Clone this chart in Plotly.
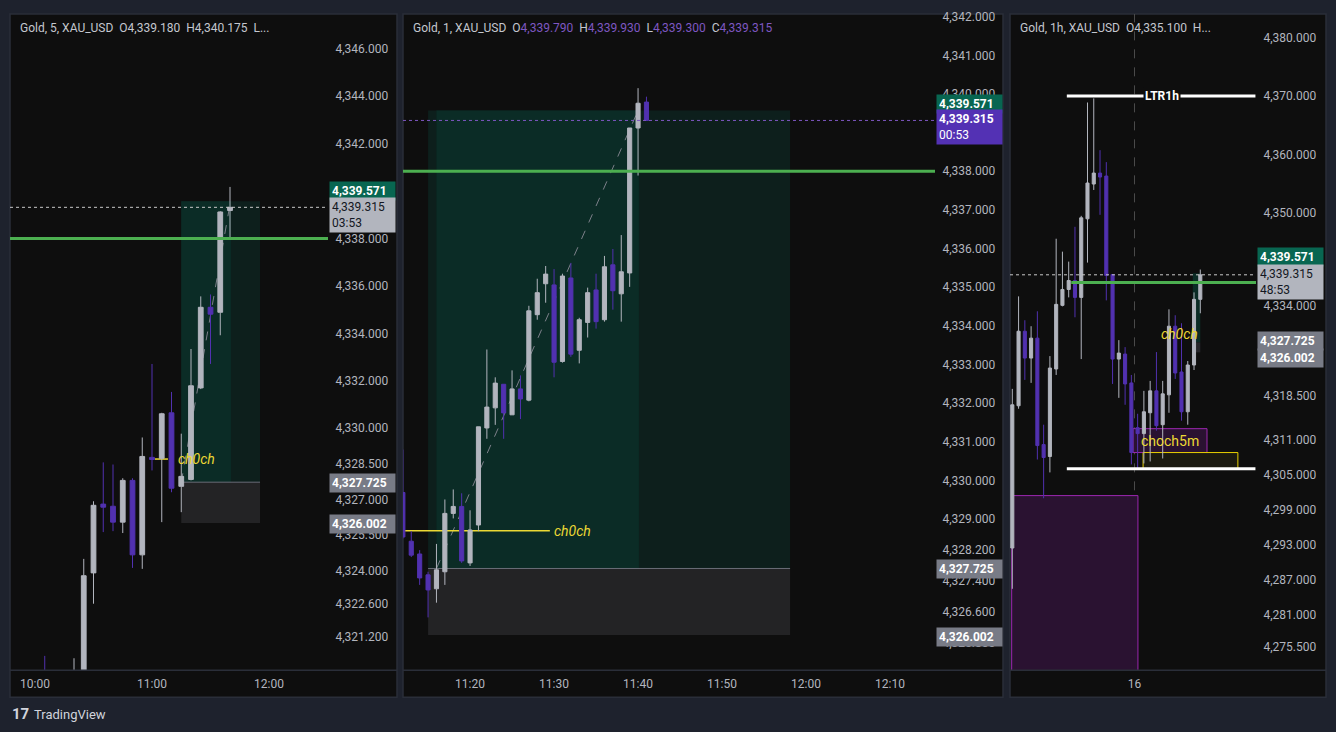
import plotly.graph_objects as go
import pandas as pd

W, H = 1336, 732
PAGE = "#1e222d"
PANEL = "#0e0e0e"
BORDER = "#2a2e39"
TXT = "#b2b5be"
UP = "#b2b5be"
DOWN = "#5131b0"
GREEN = "#4caf50"
YEL = "#ecd934"
FONT = "Roboto, sans-serif"
DAY = "2025-12-16 "

# trade levels (shared by the three charts)
TARGET = 4339.571
ENTRY = 4327.725
STOP = 4326.002
LAST = 4339.315
LEVEL_GREEN = 4338.0
CHOCH_LEVEL = 4328.70
LTR_LEVEL = 4370.0
LOW_LEVEL = 4306.0

# ---- Gold 5 min
m5_time = ["10:05", "10:20", "10:25", "10:30", "10:35", "10:40", "10:45", "10:50", "10:55",
           "11:00", "11:05", "11:10", "11:15", "11:20", "11:25", "11:30", "11:35", "11:40"]
m5_open = [4319.40, 4318.30, 4319.00, 4323.90, 4326.80, 4326.71, 4326.04, 4327.80, 4324.66,
           4328.77, 4328.73, 4330.65, 4327.55, 4327.84, 4331.70, 4335.10, 4334.89, 4339.18]
m5_high = [4320.40, 4320.30, 4324.49, 4326.92, 4328.56, 4328.47, 4327.89, 4327.89, 4329.61,
           4332.71, 4330.65, 4331.53, 4329.77, 4333.34, 4335.56, 4335.64, 4339.15, 4340.175]
m5_low = [4317.50, 4317.60, 4318.50, 4322.60, 4325.62, 4325.66, 4325.58, 4324.11, 4324.07,
          4328.22, 4326.04, 4327.30, 4326.46, 4327.80, 4331.65, 4332.71, 4333.92, 4337.95]
m5_close = [4318.20, 4319.50, 4323.78, 4326.75, 4326.67, 4326.04, 4327.80, 4324.66, 4328.81,
            4328.68, 4330.61, 4327.47, 4327.97, 4331.79, 4335.10, 4334.81, 4339.12, 4339.315]
m5_yticks = [4346, 4344, 4342, 4338, 4336, 4334, 4332, 4330, 4328.5, 4327, 4325.5, 4324, 4322.6, 4321.2]
m5_xticks = ["10:00", "11:00", "12:00"]

# ---- Gold 1 min
m1_time = ["11:12", "11:13", "11:14", "11:15", "11:16", "11:17", "11:18", "11:19", "11:20", "11:21",
           "11:22", "11:23", "11:24", "11:25", "11:26", "11:27", "11:28", "11:29", "11:30", "11:31",
           "11:32", "11:33", "11:34", "11:35", "11:36", "11:37", "11:38", "11:39", "11:40", "11:41"]
m1_open = [4329.69, 4328.43, 4328.10, 4327.56, 4327.20, 4327.64, 4329.15, 4329.33, 4327.87, 4328.85,
           4331.36, 4331.88, 4332.49, 4331.70, 4332.37, 4332.08, 4334.29, 4335.09, 4335.06, 4333.08,
           4335.24, 4333.37, 4334.09, 4334.93, 4334.16, 4335.58, 4334.83, 4335.37, 4339.12, 4339.79]
m1_high = [4330.80, 4328.69, 4328.20, 4327.64, 4328.36, 4329.51, 4329.77, 4329.67, 4329.23, 4331.39,
           4333.39, 4332.67, 4332.49, 4332.85, 4332.72, 4334.52, 4335.22, 4335.55, 4335.47, 4335.35,
           4335.63, 4334.21, 4334.99, 4335.35, 4335.81, 4335.99, 4336.35, 4339.12, 4340.15, 4339.93]
m1_low = [4328.50, 4328.02, 4327.30, 4326.46, 4326.84, 4327.30, 4329.02, 4327.87, 4327.79, 4328.69,
          4331.08, 4331.44, 4331.08, 4331.70, 4331.59, 4332.05, 4334.16, 4334.60, 4332.67, 4333.05,
          4333.20, 4333.03, 4333.70, 4333.93, 4334.11, 4334.42, 4334.11, 4335.01, 4337.89, 4339.30]
m1_close = [4328.54, 4328.07, 4327.48, 4327.17, 4327.69, 4329.15, 4329.33, 4327.92, 4328.72, 4331.39,
            4331.90, 4332.52, 4331.75, 4332.37, 4332.11, 4334.39, 4334.86, 4335.34, 4333.06, 4335.29,
            4333.27, 4334.16, 4334.86, 4334.11, 4335.53, 4334.91, 4335.40, 4339.12, 4339.76, 4339.315]
m1_yticks = [4342, 4341, 4340, 4338, 4337, 4336, 4335, 4334, 4333, 4332, 4331, 4330, 4329,
             4328.2, 4327.4, 4326.6, 4325.8]
m1_xticks = ["11:20", "11:30", "11:40", "11:50", "12:00", "12:10"]

# ---- Gold 1 hour
h1_start = "2025-12-15 04:30"
h1_open = [4292.41, 4316.83, 4329.63, 4325.02, 4328.44, 4310.17, 4308.12, 4323.15, 4334.07, 4336.80,
           4338.34, 4335.44, 4348.93, 4354.90, 4356.78, 4356.27, 4339.36, 4324.85, 4325.71, 4320.75,
           4313.07, 4312.05, 4315.63, 4319.39, 4313.58, 4318.71, 4330.49, 4322.63, 4315.80, 4323.83, 4335.10]
h1_high = [4319.73, 4335.61, 4331.51, 4330.49, 4333.05, 4313.58, 4325.36, 4345.51, 4343.29, 4341.58,
           4347.56, 4349.44, 4368.90, 4369.60, 4360.71, 4358.66, 4339.40, 4328.10, 4326.90, 4322.12,
           4315.46, 4319.39, 4321.10, 4326.05, 4321.10, 4333.39, 4332.37, 4331.00, 4324.51, 4336.30, 4340.22]
h1_low = [4285.41, 4316.32, 4321.27, 4320.76, 4307.61, 4300.95, 4305.39, 4322.12, 4333.90, 4335.44,
          4332.02, 4324.85, 4341.41, 4353.88, 4349.61, 4334.93, 4320.58, 4318.19, 4317.00, 4306.76,
          4306.07, 4306.93, 4307.27, 4312.56, 4307.78, 4315.63, 4321.44, 4314.27, 4313.58, 4322.97, 4332.71]
h1_close = [4317.00, 4329.63, 4325.02, 4328.44, 4310.00, 4307.95, 4323.31, 4334.24, 4336.80, 4338.34,
            4335.44, 4349.10, 4355.07, 4356.78, 4356.10, 4339.19, 4324.85, 4325.88, 4320.58, 4308.80,
            4312.05, 4315.80, 4319.39, 4313.41, 4318.88, 4330.49, 4322.46, 4315.80, 4323.83, 4335.10, 4339.315]
h1_yticks = [4380, 4370, 4360, 4350, 4334, 4318.5, 4311, 4305, 4299, 4293, 4287, 4281, 4275.5]
h1_time = pd.date_range(h1_start, periods=len(h1_open), freq="h")


def px(x):
    return x / W


def py(y):
    return 1 - y / H


def T(s):
    return DAY + s


def hr(i):
    return (pd.Timestamp(h1_start) + pd.Timedelta(hours=i)).strftime("%Y-%m-%d %H:%M:%S")


def candles(x, o, h, l, c, xa, ya):
    return go.Candlestick(x=x, open=o, high=h, low=l, close=c, xaxis=xa, yaxis=ya,
                          increasing=dict(line=dict(color=UP, width=1), fillcolor=UP),
                          decreasing=dict(line=dict(color=DOWN, width=1), fillcolor=DOWN),
                          whiskerwidth=0, showlegend=False, hoverinfo="skip")


fig = go.Figure()
fig.add_trace(candles([T(t) for t in m5_time], m5_open, m5_high, m5_low, m5_close, "x", "y"))
fig.add_trace(candles([T(t) for t in m1_time], m1_open, m1_high, m1_low, m1_close, "x2", "y2"))
fig.add_trace(candles(h1_time, h1_open, h1_high, h1_low, h1_close, "x3", "y3"))

shapes = []


def rect(xr, yr, x0, x1, y0, y1, fill, line=None, lw=0, layer="below"):
    shapes.append(dict(type="rect", xref=xr, yref=yr, x0=x0, x1=x1, y0=y0, y1=y1, fillcolor=fill,
                       line=dict(color=line or fill, width=lw), layer=layer))


def seg(xr, yr, x0, x1, y0, y1, color, width=1, dash="solid", layer="below"):
    shapes.append(dict(type="line", xref=xr, yref=yr, x0=x0, x1=x1, y0=y0, y1=y1,
                       line=dict(color=color, width=width, dash=dash), layer=layer))


# panels
for left, right in [(10, 397), (403, 1003), (1010, 1326)]:
    rect("paper", "paper", px(left), px(right), py(697), py(10), PANEL, BORDER, 1.5)
    seg("paper", "paper", px(left), px(right), py(670), py(670), BORDER, 1.5, layer="above")

# 5 min drawings
rect("x", "y", T("11:15"), T("11:55:24"), ENTRY, TARGET, "#0d1f1c")
rect("x", "y", T("11:15"), T("11:40:30"), ENTRY, TARGET, "#0b2c26")
rect("x", "y", T("11:15"), T("11:55:24"), STOP, ENTRY, "#232325")
seg("x", "y", T("11:15"), T("11:55:24"), ENTRY, ENTRY, "#6a6d78")
seg("x", "y", T("11:15"), T("11:40"), ENTRY, 4339.45, "#7d808a", 1, "dash")
seg("x", "y", T("11:01:30"), T("11:08:10"), CHOCH_LEVEL, CHOCH_LEVEL, YEL, 1.5)
seg("x domain", "y", 0, 1, LEVEL_GREEN, LEVEL_GREEN, GREEN, 3, layer="above")
seg("x domain", "y", 0, 1, LAST, LAST, "#c8c8c8", 1, "dot", layer="above")

# 1 min drawings
rect("x2", "y2", T("11:15"), T("11:58:06"), ENTRY, TARGET, "#0d1f1c")
rect("x2", "y2", T("11:16"), T("11:40:06"), ENTRY, TARGET, "#0b2c26")
rect("x2", "y2", T("11:15"), T("11:58:06"), STOP, ENTRY, "#232325")
seg("x2", "y2", T("11:15"), T("11:58:06"), ENTRY, ENTRY, "#6a6d78")
seg("x2", "y2", T("11:16"), T("11:40"), ENTRY, TARGET, "#7d808a", 1, "dash")
seg("x2", "y2", T("11:05"), T("11:29:30"), CHOCH_LEVEL, CHOCH_LEVEL, YEL, 1.5)
seg("x2 domain", "y2", 0, 1, LEVEL_GREEN, LEVEL_GREEN, GREEN, 3, layer="above")
seg("x2 domain", "y2", 0, 1, LAST, LAST, "#7e57c2", 1, "dot", layer="above")

# 1 hour drawings
rect("x3", "y3", hr(-0.1), hr(20.05), 4250, 4301.41, "#2a1231", "#9c27b0", 1)
rect("x3", "y3", hr(19.26), hr(31.07), 4308.80, 4312.90, "#2a1231", "#9c27b0", 1)
rect("x3", "y3", hr(20.87), hr(36.0), 4306.07, 4308.80, "#1b1a10", "#e8d000", 1)
rect("x3", "y3", hr(28.8), hr(30.0), ENTRY, TARGET, "#0b2c26")
rect("x3", "y3", hr(28.8), hr(30.0), STOP, ENTRY, "#26262a")
seg("x3", "y3 domain", hr(19.5), hr(19.5), 0, 1, "#4a4a4a", 1, "dash")
seg("x3", "y3", hr(8.7), hr(38.8), LTR_LEVEL, LTR_LEVEL, "#ffffff", 3, layer="above")
seg("x3", "y3", hr(8.7), hr(38.8), LOW_LEVEL, LOW_LEVEL, "#ffffff", 3, layer="above")
seg("x3", "y3", hr(9.4), hr(40), LEVEL_GREEN, LEVEL_GREEN, GREEN, 3, layer="above")
seg("x3 domain", "y3", 0, 1, LAST, LAST, "#c8c8c8", 1, "dot", layer="above")

ann = []


def note(text, x, y, xr="paper", yr="paper", **kw):
    d = dict(text=text, x=x, y=y, xref=xr, yref=yr, showarrow=False,
             font=dict(family=FONT, size=12, color=TXT))
    d.update(kw)
    ann.append(d)


def tag(yr, xright, price, text, bg, fg, shift=0):
    note(text, px(xright + 1), price, "paper", yr, xanchor="left", yanchor="middle", yshift=shift,
         bgcolor=bg, borderpad=2, width=61, align="left",
         font=dict(family=FONT, size=12, color=fg))


NB = "\u00a0\u00a0"
HEAD = dict(xanchor="left", yanchor="middle", font=dict(family=FONT, size=12, color="#c4c7cf"))
note("Gold, 5, XAU_USD" + NB + "O4,339.180" + NB + "H4,340.175" + NB + "L...", px(18), py(24), **HEAD)
pv = "<span style='color:#7e57c2'>%s</span>"
note("Gold, 1, XAU_USD" + NB + "O" + pv % "4,339.790" + NB + "H" + pv % "4,339.930" + NB
     + "L" + pv % "4,339.300" + NB + "C" + pv % "4,339.315", px(411), py(24), **HEAD)
note("Gold, 1h, XAU_USD" + NB + "O4,335.100" + NB + "H...", px(1018), py(24), **HEAD)

# price scale tags
tag("y", 328, TARGET, "<b>4,339.571</b>", "#086651", "#ffffff", 10)
tag("y", 328, LAST, "4,339.315<br>03:53", "#b2b5be", "#131722", -8)
tag("y", 328, ENTRY, "<b>4,327.725</b>", "#787b86", "#ffffff", -1)
tag("y", 328, STOP, "<b>4,326.002</b>", "#787b86", "#ffffff", -1)
tag("y2", 935, TARGET, "<b>4,339.571</b>", "#086651", "#ffffff", 7)
tag("y2", 935, LAST, "<b>4,339.315</b><br>00:53", "#5331b4", "#ffffff", -7)
tag("y2", 935, ENTRY, "<b>4,327.725</b>", "#787b86", "#ffffff", -1)
tag("y2", 935, STOP, "<b>4,326.002</b>", "#787b86", "#ffffff", -2)
tag("y3", 1256, TARGET, "<b>4,339.571</b>", "#086651", "#ffffff", 16)
tag("y3", 1256, LAST, "4,339.315<br>48:53", "#b2b5be", "#131722", -7)
tag("y3", 1256, ENTRY, "<b>4,327.725</b>", "#787b86", "#ffffff", 1)
tag("y3", 1256, STOP, "<b>4,326.002</b>", "#787b86", "#ffffff", -6)

# drawing texts
note("<i>ch0ch</i>", T("11:23"), CHOCH_LEVEL, "x", "y", font=dict(family=FONT, size=14, color=YEL))
note("<i>ch0ch</i>", T("11:32:15"), CHOCH_LEVEL, "x2", "y2", font=dict(family=FONT, size=14, color=YEL))
note("<i>ch0ch</i>", hr(26.76), 4329.17, "x3", "y3", font=dict(family=FONT, size=14, color=YEL))
note("<b>LTR1h</b>", hr(23.9), LTR_LEVEL, "x3", "y3", bgcolor=PANEL, borderpad=1,
     font=dict(family=FONT, size=12, color="#ffffff"))
note("choch5m", hr(25.1), 4310.85, "x3", "y3", font=dict(family=FONT, size=14, color=YEL))

# footer
note("<b>17</b>", px(10), py(714), xanchor="left", yanchor="middle",
     font=dict(family=FONT, size=15, color="#d1d4dc"))
note("TradingView", px(32), py(714), xanchor="left", yanchor="middle",
     font=dict(family=FONT, size=13, color="#d1d4dc"))

ydom = [py(670), py(10)]


def xax(left, right, anchor, rng, vals, text):
    return dict(domain=[px(left), px(right)], anchor=anchor, type="date", range=rng,
                showgrid=False, zeroline=False, rangeslider=dict(visible=False),
                tickvals=vals, ticktext=text, tickfont=dict(family=FONT, color=TXT, size=12),
                ticks="outside", ticklen=2, tickcolor="rgba(0,0,0,0)", fixedrange=True)


def yax(anchor, rng, vals):
    return dict(domain=ydom, anchor=anchor, side="right", range=rng, tickvals=vals,
                tickformat=",.3f", showgrid=False, zeroline=False,
                tickfont=dict(family=FONT, color=TXT, size=12),
                ticks="outside", ticklen=4, tickcolor="rgba(0,0,0,0)", fixedrange=True)


fig.update_layout(
    width=W, height=H, margin=dict(l=0, r=0, t=0, b=0),
    paper_bgcolor=PAGE, plot_bgcolor=PANEL, showlegend=False,
    font=dict(family=FONT, color=TXT, size=12),
    xaxis=xax(10, 328, "y", [T("09:47:11"), T("12:30:15")], [T(t) for t in m5_xticks], m5_xticks),
    xaxis2=xax(403, 935, "y2", [T("11:12:01"), T("12:15:21")], [T(t) for t in m1_xticks], m1_xticks),
    xaxis3=xax(1010, 1256, "y3", [hr(-0.367), hr(38.89)], [DAY + "00:00"], ["16"]),
    yaxis=yax("x", [4319.79, 4347.47], m5_yticks),
    yaxis2=yax("x2", [4325.09, 4342.07], m1_yticks),
    yaxis3=yax("x3", [4271.41, 4384.10], h1_yticks),
    shapes=shapes, annotations=ann,
)

# the page gets no default body margin, so the figure fills the window exactly
fig.write_html("out.html", config={"displayModeBar": False},
               post_script="document.body.style.margin='0';"
                           "document.body.style.background='" + PAGE + "';")
